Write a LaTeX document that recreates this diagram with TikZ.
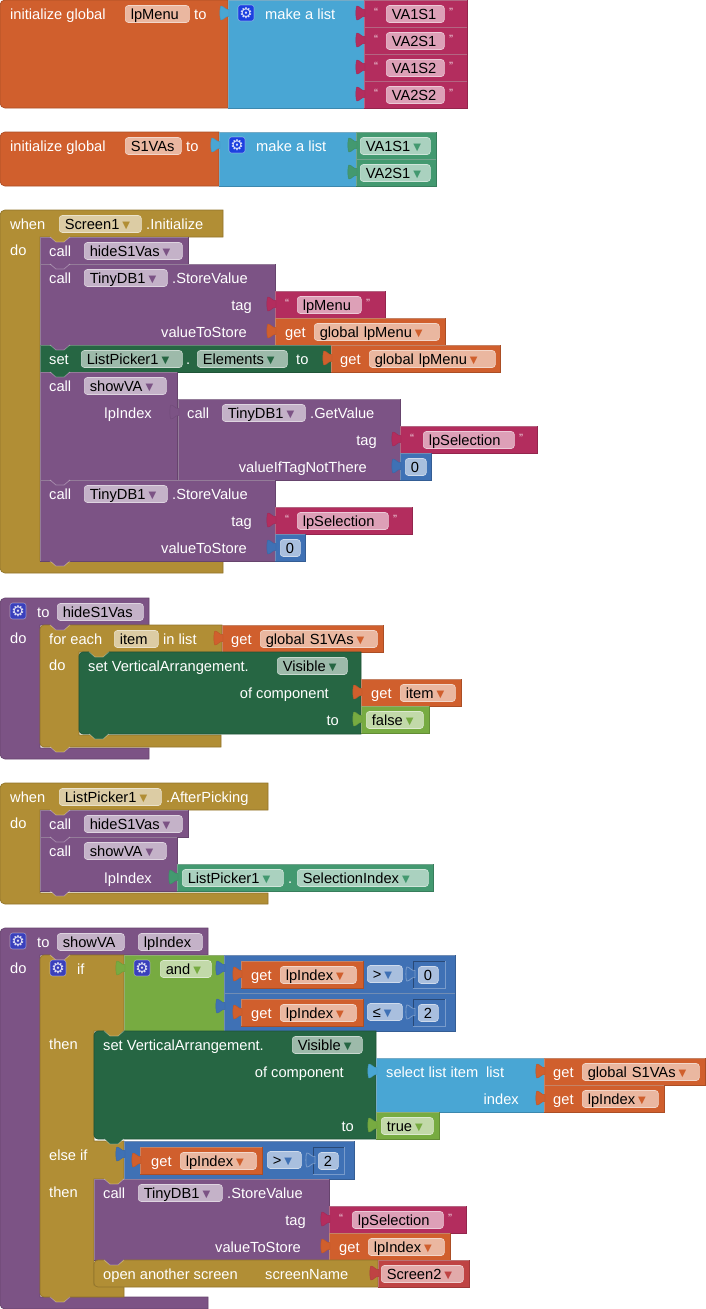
\documentclass[tikz,border=0pt]{standalone}
\usepackage{fontspec}
\setmainfont{Liberation Sans}
\newfontfamily\symfont{DejaVu Sans}
\definecolor{cGold}{HTML}{B18E35}
\definecolor{cPurple}{HTML}{7C5385}
\definecolor{cOrange}{HTML}{D05F2D}
\definecolor{cList}{HTML}{49A6D4}
\definecolor{cPink}{HTML}{B32D5E}
\definecolor{cDark}{HTML}{266643}
\definecolor{cSea}{HTML}{439970}
\definecolor{cMath}{HTML}{3F71B5}
\definecolor{cLime}{HTML}{77AB41}
\definecolor{cRed}{HTML}{BF4343}
\definecolor{cGearA}{HTML}{1C40E0}
\definecolor{cGearB}{HTML}{3A40BC}
\tikzset{
    blk/.style={fill=#1, draw=#1!82!black, line width=.7pt},
    hilite/.style={draw=white, draw opacity=.3, line width=.8pt},
    lab/.style={anchor=west, inner sep=0pt, text=white, text height=12pt, text depth=1pt, font=\fontsize{14.67}{16}\selectfont},
    rlab/.style={lab, anchor=east},
    pill/.style={anchor=west, fill=#1!45!white, draw=#1!25!white, line width=.6pt, rounded corners=3pt,
        inner xsep=5.5pt, inner ysep=0pt, minimum height=17pt, text=black, text height=12pt, text depth=1pt,
        font=\fontsize{14.67}{16}\selectfont},
    gear/.style={fill=#1, draw=white, draw opacity=.4, line width=.6pt, rounded corners=2.5pt, minimum size=16pt,
        inner sep=0pt, text=white, text opacity=.85, font=\symfont\fontsize{15}{15}\selectfont},
    quot/.style={inner sep=0pt, text=white, text opacity=.8, font=\fontsize{12}{12}\selectfont},
}
\newcommand{\blk}[5]{\draw[blk=#1] (#2,#3) rectangle (#4,#5); \draw[hilite] (#2,#5) |- (#4,#3);}
\newcommand{\plugpath}{(1,-3.5) .. controls (-3,-3) and (-4,-7) .. (-7,-7) .. controls (-8.5,-7) and (-8.5,7) .. (-7,7) .. controls (-4,7) and (-3,3) .. (1,3.5) -- cycle}
\newcommand{\plug}[3]{\draw[shift={(#2,#3)}, fill=#1, draw=#1!90!black, line width=.4pt] \plugpath;}
\newcommand{\holeplug}[2]{\draw[shift={(#1,#2)}, fill=cMath, hilite] \plugpath;}
\newcommand{\numbox}[4]{\draw[hilite] (#3,#2) |- (#1,#4); \draw[draw=cMath!65!black, line width=.7pt] (#1,#4) |- (#3,#2);}
\newcommand{\bump}[3]{\fill[shift={(#2,#3)}, #1] (10,-1) -- (16,5) -- (24,5) -- (30,-1) -- cycle;
    \draw[shift={(#2,#3)}, hilite] (10,0) -- (16,5) -- (24,5) -- (30,0);}
\newcommand{\fld}[6]{\node[pill=#2, text width=#4pt-#3pt-11pt] (#1) at (#3,#5) {#6};}
\newcommand{\drop}[6]{\node[pill=#2, text width=#4pt-#3pt-11pt] (#1) at (#3,#5)
    {\hbox to \hsize{#6\kern3pt\raisebox{1.5pt}{\symfont\fontsize{10}{10}\selectfont\textcolor{#2}{▼}}\hss}};}
\begin{document}
\begin{tikzpicture}[x=1pt,y=-1pt]
\useasboundingbox (0,0) rectangle (705,1309);

% global lpMenu
\draw[blk=cOrange] (0,50) [rounded corners=5pt] -- (0,0) [sharp corners] -- (228,0) -- (228,108) [rounded corners=5pt] -- (0,108) -- cycle;
\blk{cList}{228}{0}{364}{108}
\plug{cList}{228}{13}
\foreach \ya in {0,27,54,81}{
    \blk{cPink}{364}{\ya}{467}{\ya+27}
    \plug{cPink}{364}{\ya+13}
}
\node[lab] (initMenu) at (10,14) {initialize global};
\fld{menuName}{cOrange}{125}{189}{14}{lpMenu}
\node[lab] (toMenu) at (194,14) {to};
\node[gear=cGearA] (gearMenu) at (246,13) {⚙};
\node[lab] (listMenu) at (265,14) {make a list};
\node[quot] (qa1) at (376,12) {“}; \fld{strA}{cPink}{386}{444}{14}{VA1S1} \node[quot] (qa2) at (451,12) {”};
\node[quot] (qb1) at (376,39) {“}; \fld{strB}{cPink}{386}{444}{41}{VA2S1} \node[quot] (qb2) at (451,39) {”};
\node[quot] (qc1) at (376,66) {“}; \fld{strC}{cPink}{386}{444}{68}{VA1S2} \node[quot] (qc2) at (451,66) {”};
\node[quot] (qd1) at (376,93) {“}; \fld{strD}{cPink}{386}{444}{95}{VA2S2} \node[quot] (qd2) at (451,93) {”};

% global S1VAs
\draw[blk=cOrange] (0,160) [rounded corners=5pt] -- (0,132) [sharp corners] -- (219,132) -- (219,186) [rounded corners=5pt] -- (0,186) -- cycle;
\blk{cList}{219}{132}{356}{186}
\plug{cList}{219}{145}
\blk{cSea}{356}{132}{436}{159}
\blk{cSea}{356}{159}{436}{186}
\plug{cSea}{356}{145}
\plug{cSea}{356}{172}
\node[lab] (initVas) at (10,146) {initialize global};
\fld{vasName}{cOrange}{125}{181}{146}{S1VAs}
\node[lab] (toVas) at (186,146) {to};
\node[gear=cGearA] (gearVas) at (237,145) {⚙};
\node[lab] (listVas) at (256,146) {make a list};
\drop{vaOne}{cSea}{360}{430}{146}{VA1S1}
\drop{vaTwo}{cSea}{360}{430}{173}{VA2S1}

% when Screen1
\draw[blk=cGold] (0,400) [rounded corners=5pt] -- (0,210) [sharp corners] -- (223,210) -- (223,237) -- (40,237) -- (40,561) -- (223,561) -- (223,573) [rounded corners=5pt] -- (0,573) -- cycle;
\node[lab] (whenA) at (10,224) {when};
\drop{screenA}{cGold}{59}{141}{224}{Screen1}
\node[lab] (initEv) at (146,224) {.Initialize};
\node[lab] (doA) at (10,250) {do};
\blk{cPurple}{40}{237}{188}{264}
\bump{cGold}{40}{237}
\node[lab] (callHide) at (49,251) {call};
\drop{hideA}{cPurple}{84}{182}{251}{hideS1Vas}
\blk{cPurple}{40}{264}{275}{345}
\bump{cPurple}{40}{264}
\node[lab] (callStore) at (49,278) {call};
\drop{dbA}{cPurple}{84}{167}{278}{TinyDB1}
\node[lab] (storeA) at (172,278) {.StoreValue};
\node[rlab] (tagA) at (252,305) {tag};
\node[rlab] (valA) at (247,332) {valueToStore};
\blk{cPink}{275}{291}{385}{318}
\plug{cPink}{275}{304}
\node[quot] (qe1) at (287,303) {“}; \fld{strMenu}{cPink}{297}{361}{305}{lpMenu} \node[quot] (qe2) at (368,303) {”};
\blk{cOrange}{275}{318}{445}{345}
\plug{cOrange}{275}{331}
\node[lab] (getA) at (285,332) {get};
\drop{globA}{cOrange}{314}{439}{332}{global lpMenu}
\blk{cDark}{40}{345}{331}{372}
\bump{cPurple}{40}{345}
\node[lab] (setA) at (49,359) {set};
\drop{pickA}{cDark}{81}{182}{359}{ListPicker1}
\node[lab] (dotA) at (186,359) {.};
\drop{elemA}{cDark}{197}{287}{359}{Elements}
\node[lab] (toA) at (296,359) {to};
\blk{cOrange}{331}{345}{500}{372}
\plug{cOrange}{331}{358}
\node[lab] (getB) at (340,359) {get};
\drop{globB}{cOrange}{369}{495}{359}{global lpMenu}
\blk{cPurple}{40}{372}{177}{480}
\bump{cDark}{40}{372}
\node[lab] (callShow) at (49,386) {call};
\drop{showA}{cPurple}{84}{166}{386}{showVA}
\node[rlab] (idxA) at (152,413) {lpIndex};
\blk{cPurple}{178}{399}{400}{480}
\plug{cPurple}{178}{412}
\node[lab] (callGet) at (187,413) {call};
\drop{dbB}{cPurple}{222}{305}{413}{TinyDB1}
\node[lab] (getVal) at (310,413) {.GetValue};
\node[rlab] (tagB) at (377,440) {tag};
\node[rlab] (notThere) at (367,467) {valueIfTagNotThere};
\blk{cPink}{400}{426}{537}{453}
\plug{cPink}{400}{439}
\node[quot] (qf1) at (412,438) {“}; \fld{strSelA}{cPink}{423}{514}{440}{lpSelection} \node[quot] (qf2) at (521,438) {”};
\blk{cMath}{400}{453}{431}{480}
\plug{cMath}{400}{466}
\fld{numA}{cMath}{405}{426}{467}{0}
\blk{cPurple}{40}{480}{275}{561}
\bump{cPurple}{40}{480}
\node[lab] (callStoreB) at (49,494) {call};
\drop{dbC}{cPurple}{84}{167}{494}{TinyDB1}
\node[lab] (storeB) at (172,494) {.StoreValue};
\node[rlab] (tagC) at (252,521) {tag};
\node[rlab] (valB) at (247,548) {valueToStore};
\blk{cPink}{275}{507}{412}{534}
\plug{cPink}{275}{520}
\node[quot] (qg1) at (287,519) {“}; \fld{strSelB}{cPink}{297}{388}{521}{lpSelection} \node[quot] (qg2) at (395,519) {”};
\blk{cMath}{275}{534}{305}{561}
\plug{cMath}{275}{547}
\fld{numB}{cMath}{280}{300}{548}{0}
\bump{cPurple}{40}{561}

% to hideS1Vas
\draw[blk=cPurple] (0,700) [rounded corners=5pt] -- (0,598) [sharp corners] -- (149,598) -- (149,625) -- (40,625) -- (40,748) -- (149,748) -- (149,759) [rounded corners=5pt] -- (0,759) -- cycle;
\node[gear=cGearB] (gearHide) at (18,611) {⚙};
\node[lab] (toHide) at (37,612) {to};
\fld{hideName}{cPurple}{57}{143}{612}{hideS1Vas}
\node[lab] (doB) at (10,638) {do};
\draw[blk=cGold] (40,690) [rounded corners=4pt] -- (40,625) [sharp corners] -- (222,625) -- (222,652) -- (79,652) -- (79,735) -- (221,735) -- (221,747) [rounded corners=4pt] -- (40,747) -- cycle;
\bump{cPurple}{40}{625}
\node[lab] (forEach) at (49,639) {for each};
\fld{itemName}{cGold}{114}{158}{639}{item}
\node[lab] (inList) at (163,639) {in list};
\blk{cOrange}{222}{625}{383}{652}
\plug{cOrange}{222}{638}
\node[lab] (getC) at (231,639) {get};
\drop{globC}{cOrange}{260}{377}{639}{global S1VAs}
\node[lab] (doC) at (49,665) {do};
\draw[blk=cDark] (79,690) [rounded corners=4pt] -- (79,652) [sharp corners] -- (361,652) -- (361,734) [rounded corners=4pt] -- (79,734) -- cycle;
\bump{cGold}{79}{652}
\node[lab] (setB) at (88,666) {set VerticalArrangement.};
\drop{visA}{cDark}{277}{347}{666}{Visible}
\node[rlab] (compA) at (329,693) {of component};
\node[rlab] (toB) at (339,720) {to};
\blk{cOrange}{361}{679}{461}{706}
\plug{cOrange}{361}{692}
\node[lab] (getD) at (371,693) {get};
\drop{itemA}{cOrange}{400}{455}{693}{item}
\blk{cLime}{361}{706}{429}{733}
\plug{cLime}{361}{719}
\drop{boolA}{cLime}{366}{423}{720}{false}
\bump{cDark}{79}{734}
\bump{cGold}{40}{747}

% when ListPicker1
\draw[blk=cGold] (0,850) [rounded corners=5pt] -- (0,783) [sharp corners] -- (268,783) -- (268,810) -- (40,810) -- (40,893) -- (268,893) -- (268,904) [rounded corners=5pt] -- (0,904) -- cycle;
\node[lab] (whenB) at (10,797) {when};
\drop{pickB}{cGold}{59}{161}{797}{ListPicker1}
\node[lab] (afterEv) at (166,797) {.AfterPicking};
\node[lab] (doD) at (10,823) {do};
\blk{cPurple}{40}{810}{188}{837}
\bump{cGold}{40}{810}
\node[lab] (callHideB) at (49,824) {call};
\drop{hideB}{cPurple}{84}{182}{824}{hideS1Vas}
\blk{cPurple}{40}{837}{177}{891}
\bump{cPurple}{40}{837}
\node[lab] (callShowB) at (49,851) {call};
\drop{showB}{cPurple}{84}{166}{851}{showVA}
\node[rlab] (idxB) at (152,878) {lpIndex};
\blk{cSea}{177}{864}{433}{891}
\plug{cSea}{177}{877}
\drop{pickC}{cSea}{182}{283}{878}{ListPicker1}
\node[lab] (dotB) at (288,878) {.};
\drop{selIdx}{cSea}{297}{428}{878}{SelectionIndex}
\bump{cPurple}{40}{891}

% to showVA
\draw[blk=cPurple] (0,1100) [rounded corners=5pt] -- (0,928) [sharp corners] -- (208,928) -- (208,955) -- (40,955) -- (40,1297) -- (208,1297) -- (208,1309) [rounded corners=5pt] -- (0,1309) -- cycle;
\node[gear=cGearB] (gearShow) at (18,941) {⚙};
\node[lab] (toShow) at (37,942) {to};
\fld{showName}{cPurple}{57}{124}{942}{showVA}
\fld{idxName}{cPurple}{138}{202}{942}{lpIndex}
\node[lab] (doE) at (10,968) {do};
\draw[blk=cGold] (40,1100) [rounded corners=4pt] -- (40,955) [sharp corners] -- (124,955) -- (124,1031) -- (94,1031) -- (94,1141) -- (124,1141) -- (124,1179) -- (94,1179) -- (94,1285) -- (124,1285) -- (124,1297) [rounded corners=4pt] -- (40,1297) -- cycle;
\bump{cPurple}{40}{955}
\node[gear=cGearB] (gearIf) at (58,968) {⚙};
\node[lab] (ifA) at (77,969) {if};
\node[lab] (thenA) at (49,1044) {then};
\node[lab] (elseIf) at (49,1155) {else if};
\node[lab] (thenB) at (49,1192) {then};
\blk{cLime}{124}{955}{224}{1031}
\plug{cLime}{124}{968}
\node[gear=cGearB] (gearAnd) at (142,968) {⚙};
\drop{andOp}{cLime}{160}{211}{969}{and}
\blk{cMath}{224}{955}{455}{993}
\plug{cMath}{224}{968}
\blk{cOrange}{241}{961}{363}{988}
\plug{cOrange}{241}{974}
\node[lab] (getE) at (251,975) {get};
\drop{idxC}{cOrange}{280}{356}{975}{lpIndex}
\drop{gtA}{cMath}{367}{402}{974}{>}
\numbox{413}{961}{445}{988}
\holeplug{414}{974}
\fld{numC}{cMath}{418}{438}{975}{0}
\blk{cMath}{224}{993}{455}{1031}
\plug{cMath}{224}{1006}
\blk{cOrange}{241}{999}{363}{1026}
\plug{cOrange}{241}{1012}
\node[lab] (getF) at (251,1013) {get};
\drop{idxD}{cOrange}{280}{356}{1013}{lpIndex}
\drop{leA}{cMath}{367}{402}{1012}{≤}
\numbox{413}{999}{445}{1026}
\holeplug{414}{1012}
\fld{numD}{cMath}{418}{438}{1013}{2}
\draw[blk=cDark] (94,1080) [rounded corners=4pt] -- (94,1031) [sharp corners] -- (376,1031) -- (376,1139) [rounded corners=4pt] -- (94,1139) -- cycle;
\bump{cGold}{94}{1031}
\node[lab] (setC) at (103,1045) {set VerticalArrangement.};
\drop{visB}{cDark}{292}{362}{1045}{Visible}
\node[rlab] (compB) at (344,1072) {of component};
\node[rlab] (toC) at (354,1126) {to};
\blk{cList}{376}{1058}{544}{1112}
\plug{cList}{376}{1071}
\node[lab] (selItem) at (386,1072) {select list item};
\node[lab] (listA) at (486,1072) {list};
\node[rlab] (idxLab) at (519,1099) {index};
\blk{cOrange}{544}{1058}{705}{1085}
\plug{cOrange}{544}{1071}
\node[lab] (getG) at (553,1072) {get};
\drop{globD}{cOrange}{582}{699}{1072}{global S1VAs}
\blk{cOrange}{544}{1085}{664}{1112}
\plug{cOrange}{544}{1098}
\node[lab] (getH) at (553,1099) {get};
\drop{idxE}{cOrange}{582}{658}{1099}{lpIndex}
\blk{cLime}{376}{1112}{439}{1139}
\plug{cLime}{376}{1125}
\drop{boolB}{cLime}{381}{433}{1126}{true}
\bump{cDark}{94}{1139}
\blk{cMath}{124}{1141}{354}{1179}
\plug{cMath}{124}{1154}
\blk{cOrange}{140}{1147}{262}{1174}
\plug{cOrange}{140}{1160}
\node[lab] (getI) at (151,1161) {get};
\drop{idxF}{cOrange}{180}{256}{1161}{lpIndex}
\drop{gtB}{cMath}{267}{301}{1160}{>}
\numbox{313}{1147}{344}{1174}
\holeplug{314}{1160}
\fld{numE}{cMath}{318}{338}{1161}{2}
\blk{cPurple}{94}{1179}{329}{1260}
\bump{cGold}{94}{1179}
\node[lab] (callStoreC) at (103,1193) {call};
\drop{dbD}{cPurple}{138}{222}{1193}{TinyDB1}
\node[lab] (storeC) at (227,1193) {.StoreValue};
\node[rlab] (tagD) at (306,1220) {tag};
\node[rlab] (valC) at (301,1247) {valueToStore};
\blk{cPink}{329}{1206}{466}{1233}
\plug{cPink}{329}{1219}
\node[quot] (qh1) at (341,1218) {“}; \fld{strSelC}{cPink}{352}{443}{1220}{lpSelection} \node[quot] (qh2) at (450,1218) {”};
\blk{cOrange}{329}{1233}{450}{1260}
\plug{cOrange}{329}{1246}
\node[lab] (getJ) at (339,1247) {get};
\drop{idxG}{cOrange}{368}{444}{1247}{lpIndex}
\draw[blk=cGold] (94,1270) [rounded corners=4pt] -- (94,1260) [sharp corners] -- (378,1260) -- (378,1287) [rounded corners=4pt] -- (94,1287) -- cycle;
\bump{cPurple}{94}{1260}
\node[lab] (openScr) at (103,1274) {open another screen};
\node[lab] (scrName) at (265,1274) {screenName};
\blk{cRed}{378}{1260}{469}{1287}
\plug{cRed}{378}{1273}
\drop{screenB}{cRed}{381}{463}{1274}{Screen2}
\bump{cGold}{40}{1297}
\end{tikzpicture}
\end{document}
